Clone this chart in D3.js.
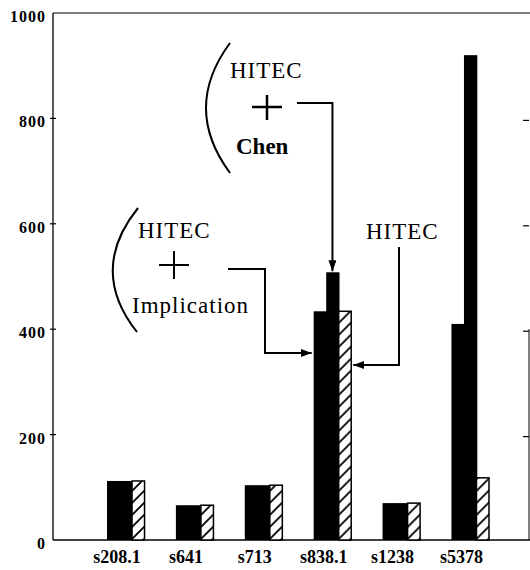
<!DOCTYPE html>
<meta charset="utf-8">
<head>
    <title>HITEC variants</title>
    <script src="https://d3js.org/d3.v7.min.js"></script>
    <style>
        body { margin: 0; background: #fff; }
        .tick-label { font-family: "Liberation Serif", serif; font-weight: bold; font-size: 16px; letter-spacing: 1px; }
        .cat-label { font-family: "Liberation Serif", serif; font-weight: bold; font-size: 18px; }
        .note { font-family: "Liberation Serif", serif; font-size: 23px; letter-spacing: 1px; }
    </style>
</head>
<body>
<script>
// data
var circuits = ["s208.1", "s641", "s713", "s838.1", "s1238", "s5378"];
var series = ["implication", "chen", "hitec"];
var implication = [112, 66, 104, 434, 70, 410];
var chen = [112, 66, 104, 508, 70, 920];
var hitec = [112, 66, 104, 434, 70, 118];
var yTicks = [0, 200, 400, 600, 800, 1000];

var width = 530, height = 570;
var xLeft = 53, yTop = 13, yBottom = 540, xRight = 529;

var svg = d3.select("body").append("svg")
    .attr("width", width)
    .attr("height", height);

var defs = svg.append("defs");
var pat = defs.append("pattern")
    .attr("id", "hatch")
    .attr("patternUnits", "userSpaceOnUse")
    .attr("width", 12).attr("height", 12);
pat.append("rect").attr("width", 12).attr("height", 12).attr("fill", "#fff");
pat.append("path")
    .attr("d", "M-3,3 L3,-3 M0,12 L12,0 M9,15 L15,9")
    .attr("stroke", "#000").attr("stroke-width", 1.8);

defs.append("marker")
    .attr("id", "arrow")
    .attr("viewBox", "0 0 11 8")
    .attr("refX", 11).attr("refY", 4)
    .attr("markerWidth", 11).attr("markerHeight", 8)
    .attr("markerUnits", "userSpaceOnUse")
    .attr("orient", "auto")
  .append("path")
    .attr("d", "M0,0 L11,4 L0,8 Z")
    .attr("fill", "#000");

var y = d3.scaleLinear().domain([0, 1000]).range([yBottom, yTop]);
var x0 = d3.scaleBand().domain(circuits).range([107, 489]).paddingInner(0.455).paddingOuter(0);
var x1 = d3.scaleBand().domain(series).range([0, x0.bandwidth()]);

var rows = circuits.map(function(c, i) {
    return { name: c, implication: implication[i], chen: chen[i], hitec: hitec[i] };
});

// frame lines
svg.append("line").attr("x1", xLeft).attr("x2", width).attr("y1", yTop).attr("y2", yTop)
    .attr("stroke", "#000").attr("stroke-width", 1.2);
svg.append("line").attr("x1", xLeft).attr("x2", width).attr("y1", yBottom).attr("y2", yBottom)
    .attr("stroke", "#000").attr("stroke-width", 1.3);
svg.append("line").attr("x1", xLeft).attr("x2", xLeft).attr("y1", yTop).attr("y2", yBottom)
    .attr("stroke", "#000").attr("stroke-width", 1.3);
svg.append("line").attr("x1", xRight).attr("x2", xRight).attr("y1", y(400)).attr("y2", yBottom)
    .attr("stroke", "#000").attr("stroke-width", 1);

// y axis ticks and labels
var inner = yTicks.filter(function(t) { return t > 0 && t < 1000; });
svg.selectAll(".ltick").data(inner).enter().append("line")
    .attr("x1", xLeft - 3).attr("x2", xLeft + 3)
    .attr("y1", d => y(d)).attr("y2", d => y(d))
    .attr("stroke", "#000").attr("stroke-width", 1.2);
svg.selectAll(".rtick").data(inner).enter().append("line")
    .attr("x1", xRight - 6).attr("x2", xRight)
    .attr("y1", d => y(d) + 2).attr("y2", d => y(d) + 2)
    .attr("stroke", "#000").attr("stroke-width", 1.2);
svg.selectAll(".tick-label").data(yTicks).enter().append("text")
    .attr("class", "tick-label")
    .attr("x", 46)
    .attr("y", d => y(d) + 9)
    .attr("text-anchor", "end")
    .text(d => d);

// bars
var groups = svg.selectAll(".grp").data(rows).enter().append("g")
    .attr("transform", d => "translate(" + x0(d.name) + ",0)");

groups.selectAll("rect")
    .data(d => series.map(k => ({ key: k, value: d[k] })))
    .enter().append("rect")
    .attr("x", d => x1(d.key))
    .attr("y", d => y(d.value))
    .attr("width", d => x1.bandwidth() + (d.key === "hitec" ? 0 : 0.8))
    .attr("height", d => yBottom - y(d.value))
    .attr("fill", d => d.key === "hitec" ? "url(#hatch)" : "#000")
    .attr("stroke", d => d.key === "hitec" ? "#000" : "none")
    .attr("stroke-width", 1.5);

// category labels
svg.selectAll(".cat-label").data(circuits).enter().append("text")
    .attr("class", "cat-label")
    .attr("x", d => x0(d) + 10)
    .attr("y", 563)
    .attr("text-anchor", "middle")
    .text(d => d);

// annotations
var pen = function(sel) { return sel.attr("fill", "none").attr("stroke", "#000").attr("stroke-width", 2); };
var bw = x1.bandwidth();
var target = "s838.1", ti = circuits.indexOf(target);

// HITEC + Chen
var p1 = d3.path(); p1.moveTo(230, 43); p1.quadraticCurveTo(182, 108, 230, 173);
pen(svg.append("path").attr("d", p1.toString()));
svg.append("text").attr("class", "note").attr("x", 230).attr("y", 78).text("HITEC");
pen(svg.append("path").attr("d", "M252,107 L282,107 M267,95 L267,120")).attr("stroke-width", 2.5);
svg.append("text").attr("class", "note").attr("x", 236).attr("y", 154)
    .style("font-weight", "bold").style("letter-spacing", "0px").text("Chen");
var chenX = x0(target) + x1("chen") + bw / 2;
pen(svg.append("path")
    .attr("d", "M297,103 L" + chenX + ",103 L" + chenX + "," + (y(chen[ti]) - 1)))
    .attr("marker-end", "url(#arrow)");

// HITEC + Implication
var p2 = d3.path(); p2.moveTo(138, 208); p2.quadraticCurveTo(88, 270, 137, 332);
pen(svg.append("path").attr("d", p2.toString()));
svg.append("text").attr("class", "note").attr("x", 138).attr("y", 238).text("HITEC");
pen(svg.append("path").attr("d", "M159,265 L189,265 M174,251 L174,279"));
svg.append("text").attr("class", "note").attr("x", 132).attr("y", 313).text("Implication");
pen(svg.append("path")
    .attr("d", "M228,269 L265,269 L265,353 L" + (x0(target) - 2) + ",353"))
    .attr("marker-end", "url(#arrow)");

// HITEC alone
svg.append("text").attr("class", "note").attr("x", 366).attr("y", 239).text("HITEC");
pen(svg.append("path")
    .attr("d", "M399,247 L399,365 L" + (x0(target) + x1("hitec") + bw + 2) + ",365"))
    .attr("marker-end", "url(#arrow)");
</script>
</body>
</html>
